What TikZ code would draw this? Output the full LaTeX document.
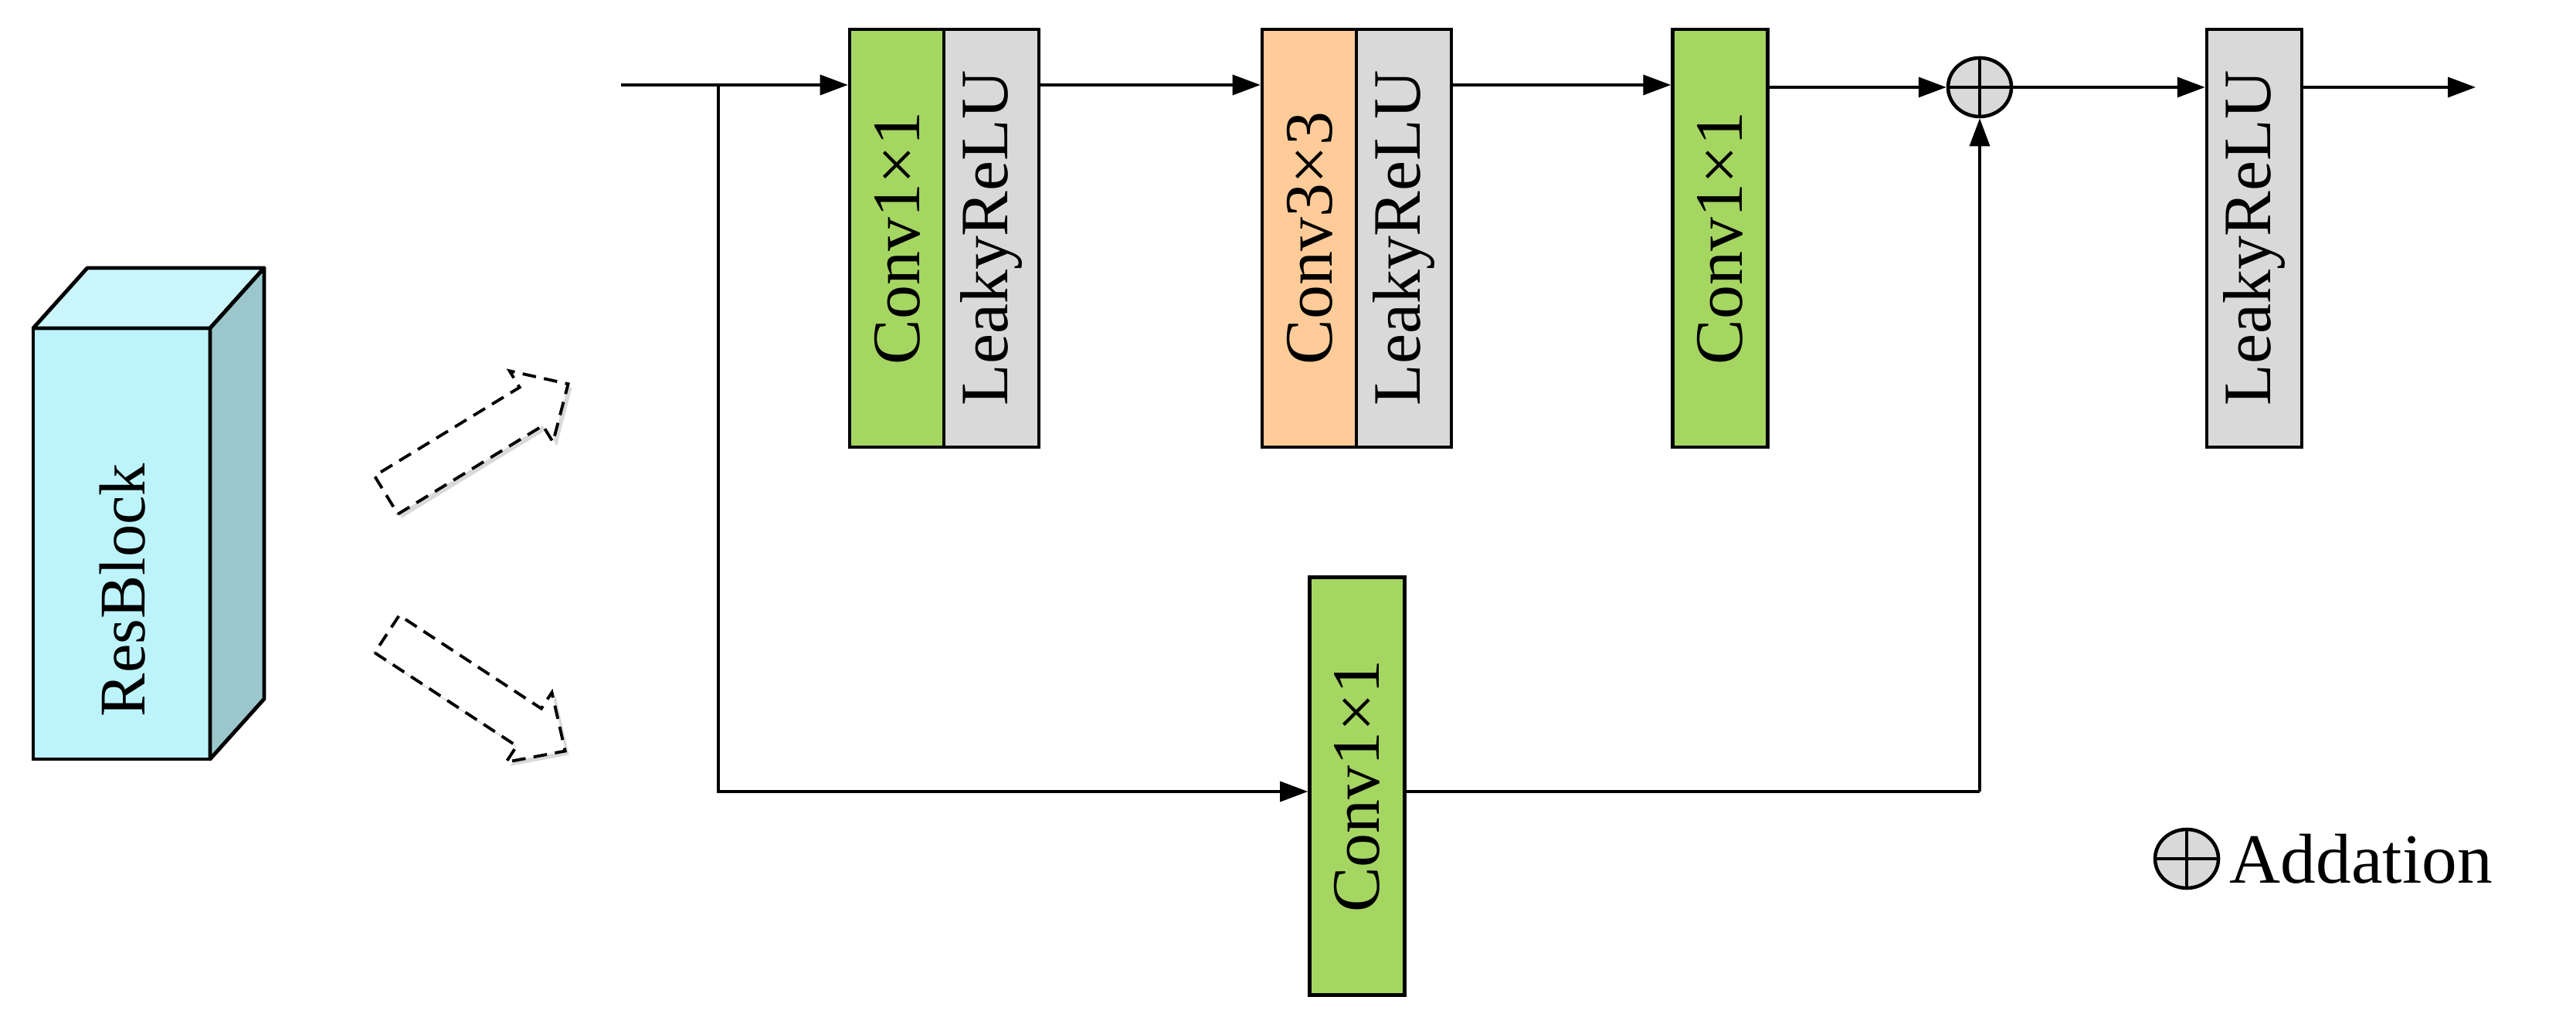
\documentclass[tikz,border=0pt]{standalone}
\usepackage{fontspec}
\setmainfont{Liberation Serif}
\newfontfamily\tnr{Liberation Serif}
\usetikzlibrary{arrows.meta,shadows,shapes.geometric}
\definecolor{cgreen}{HTML}{A5D662}
\definecolor{corange}{HTML}{FFCC99}
\definecolor{cgray}{HTML}{D9D9D9}
\definecolor{cfront}{HTML}{BDF4FC}
\definecolor{cside}{HTML}{9AC6CC}
\definecolor{ctop}{HTML}{CBF6FC}
\begin{document}
\begin{tikzpicture}[
  box/.style={draw=black,line width=1.3pt,rotate=90,minimum width=5.41cm,minimum height=1.23cm,inner sep=0pt,font=\tnr\fontsize{25}{28}\selectfont},
  arr/.style={line width=1pt,-{Triangle[length=0.36cm,width=0.26cm]}},
  ln/.style={line width=1pt},
  plus/.style={draw=black,line width=1.3pt,fill=cgray,ellipse,minimum width=0.82cm,minimum height=0.76cm,inner sep=0pt},
  hollow/.style={draw=black,line width=1.1pt,dashed,dash pattern=on 5pt off 3pt,fill=white,drop shadow={opacity=0.3,shadow xshift=0.05cm,shadow yshift=-0.05cm}}
]
\useasboundingbox (0,0) rectangle (33.35,13.25);
% cube
\filldraw[fill=cfront,line width=1.4pt] (0.43,3.42) rectangle (2.72,9.0);
\filldraw[fill=ctop,line width=1.4pt,line join=round] (0.43,9.0) -- (1.13,9.78) -- (3.42,9.78) -- (2.72,9.0) -- cycle;
\filldraw[fill=cside,line width=1.4pt,line join=round] (2.72,9.0) -- (3.42,9.78) -- (3.42,4.2) -- (2.72,3.42) -- cycle;
\node[rotate=90,font=\tnr\fontsize{24}{28}\selectfont] (rb) at (1.59,5.61) {ResBlock};
% dashed hollow arrows
\begin{scope}[shift={(5.0,6.84)},rotate=31.4]
\path[hollow] (0,-0.29) -- (2.2,-0.29) -- (2.2,-0.54) -- (2.76,0) -- (2.2,0.54) -- (2.2,0.29) -- (0,0.29) -- cycle;
\end{scope}
\begin{scope}[shift={(5.01,5.04)},rotate=-33.3]
\path[hollow] (0,-0.29) -- (2.2,-0.29) -- (2.2,-0.54) -- (2.76,0) -- (2.2,0.54) -- (2.2,0.29) -- (0,0.29) -- cycle;
\end{scope}
% blocks
\node[box,fill=cgreen] (c1) at (11.615,10.165) {Conv1×1};
\node[box,fill=cgray] (l1) at (12.835,10.165) {LeakyReLU};
\node[box,fill=corange] (c3) at (16.955,10.165) {Conv3×3};
\node[box,fill=cgray] (l2) at (18.175,10.165) {LeakyReLU};
\node[box,fill=cgreen] (c4) at (22.27,10.165) {Conv1×1};
\node[box,fill=cgray] (l3) at (29.185,10.165) {LeakyReLU};
\node[box,fill=cgreen] (cb) at (17.57,3.07) {Conv1×1};
\node[plus] (add) at (25.63,12.12) {};
\draw[line width=1.3pt] (add.north) -- (add.south) (add.west) -- (add.east);
% connectors
\coordinate (in) at (8.04,12.15);
\coordinate (br) at (9.30,12.15);
\coordinate (out) at (32.05,12.12);
\draw[arr] (in) -- (in -| c1.north);
\draw[arr] (l1.south |- in) -- (in -| c3.north);
\draw[arr] (l2.south |- in) -- (in -| c4.north);
\draw[arr] (c4.south |- add) -- (add.west);
\draw[arr] (add.east) -- (add -| l3.north);
\draw[arr] (l3.south |- out) -- (out);
\draw[arr] (br) -- (br |- 0,3.0) -- (cb.north |- 0,3.0);
\draw[ln] (cb.south |- 0,3.0) -- (add |- 0,3.0);
\draw[arr] (add |- 0,3.0) -- (add.south);
% legend
\node[plus] (lg) at (28.31,2.13) {};
\draw[line width=1.3pt] (lg.north) -- (lg.south) (lg.west) -- (lg.east);
\node[anchor=west,font=\tnr\fontsize{26}{30}\selectfont,inner sep=0pt] (lgt) at (28.86,2.13) {Addation};
\end{tikzpicture}
\end{document}
